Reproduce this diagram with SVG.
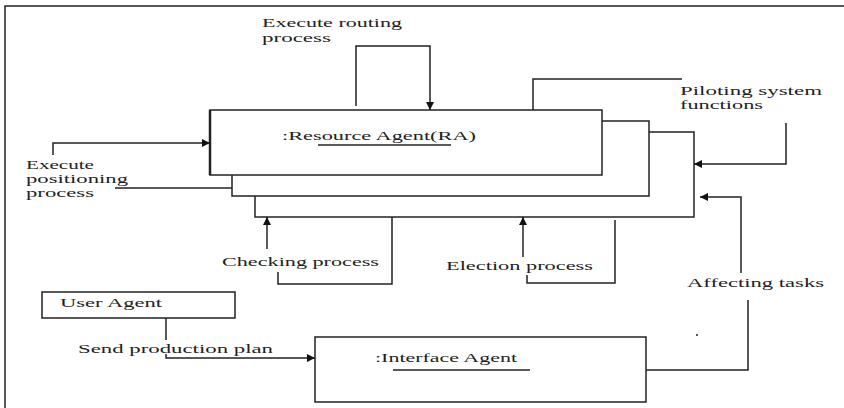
<svg xmlns="http://www.w3.org/2000/svg" width="844" height="408" viewBox="0 0 844 408">
<style>
.ln{fill:none;stroke:#222;stroke-width:1.5}
.bx{fill:#fff;stroke:#222;stroke-width:1.5}
.t{font-family:"Liberation Serif","DejaVu Serif",serif;font-size:13px;fill:#222}
.ar{fill:none;stroke:#222;stroke-width:1.5;marker-end:url(#ah)}
</style>
<defs>
<marker id="ah" viewBox="0 0 10 10" refX="10" refY="5" markerWidth="10" markerHeight="8" markerUnits="userSpaceOnUse" orient="auto">
<path d="M0,0 L10,5 L0,10 Z" fill="#111"/>
</marker>
</defs>
<rect x="0" y="0" width="844" height="408" fill="#fff"/>
<path class="ln" d="M5,408 V6 H844"/>

<g id="ra3"><rect class="bx" x="255" y="132" width="439" height="85"/></g>
<g id="ra2"><rect class="bx" x="232" y="121" width="417" height="75"/></g>
<g id="ra">
<rect class="bx" x="210" y="110" width="392" height="65"/>
<line x1="210" y1="110" x2="210" y2="175" stroke="#222" stroke-width="2.5"/>
<text class="t" x="282" y="140" textLength="194" lengthAdjust="spacingAndGlyphs">:Resource Agent(RA)</text>
<line class="ln" x1="318" y1="145" x2="451" y2="145"/>
</g>
<g id="user-agent">
<rect class="bx" x="42" y="292" width="193" height="26"/>
<text class="t" x="60" y="307" textLength="102" lengthAdjust="spacingAndGlyphs">User Agent</text>
</g>
<g id="interface-agent">
<rect class="bx" x="315" y="337" width="331" height="65"/>
<text class="t" x="375" y="362" textLength="142" lengthAdjust="spacingAndGlyphs">:Interface Agent</text>
<line class="ln" x1="393" y1="370" x2="530" y2="370"/>
</g>

<g id="connectors">
<path class="ar" d="M356,106 V46 H430 V110"/>
<path class="ar" d="M53,155 V143 H210"/>
<line class="ln" x1="115" y1="188" x2="232" y2="188"/>
<path class="ln" d="M533,110 V79 H682"/>
<path class="ar" d="M786,123 V164 H694"/>
<path class="ar" d="M741,273 V197 H700"/>
<path class="ln" d="M748,300 V370 H646"/>
<path class="ar" d="M267,249 V217"/>
<path class="ln" d="M278,272 V284 H392 V217"/>
<path class="ar" d="M523,257 V217"/>
<path class="ln" d="M527,275 V283 H615 V220"/>
<line class="ln" x1="166" y1="318" x2="166" y2="340"/>
<path class="ar" d="M166,354 V358 H315"/>
</g>

<g id="labels">
<text class="t" x="262" y="27" textLength="140" lengthAdjust="spacingAndGlyphs">Execute routing</text>
<text class="t" x="262" y="42" textLength="69" lengthAdjust="spacingAndGlyphs">process</text>
<text class="t" x="680" y="95" textLength="142" lengthAdjust="spacingAndGlyphs">Piloting system</text>
<text class="t" x="680" y="109" textLength="83" lengthAdjust="spacingAndGlyphs">functions</text>
<text class="t" x="26" y="169" textLength="68" lengthAdjust="spacingAndGlyphs">Execute</text>
<text class="t" x="26" y="183" textLength="102" lengthAdjust="spacingAndGlyphs">positioning</text>
<text class="t" x="26" y="197" textLength="68" lengthAdjust="spacingAndGlyphs">process</text>
<text class="t" x="222" y="266" textLength="157" lengthAdjust="spacingAndGlyphs">Checking process</text>
<text class="t" x="446" y="270" textLength="147" lengthAdjust="spacingAndGlyphs">Election process</text>
<text class="t" x="687" y="287" textLength="137" lengthAdjust="spacingAndGlyphs">Affecting tasks</text>
<text class="t" x="78" y="353" textLength="195" lengthAdjust="spacingAndGlyphs">Send production plan</text>
</g>
<rect x="696" y="334" width="2" height="2" fill="#555"/>
</svg>
